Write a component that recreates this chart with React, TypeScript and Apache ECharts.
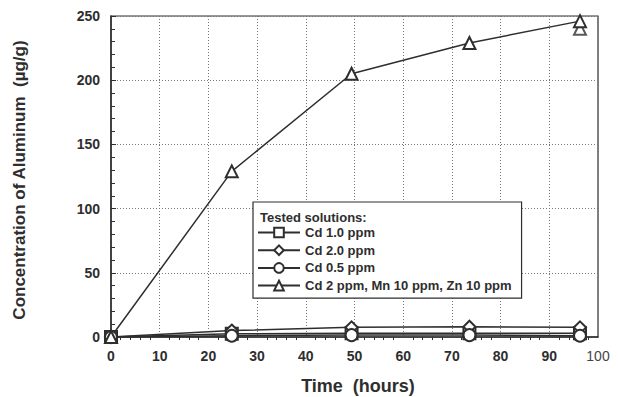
import React, { useEffect, useRef } from "react";
import * as echarts from "echarts";

const times = [0, 24.8, 49.4, 73.6, 96.3];
const cd10 = [0, 2.5, 3, 3, 3];
const cd20 = [0, 5, 7.5, 8, 7.5];
const cd05 = [0, 1, 1.5, 1.5, 1];
const cdMnZn = [0, 129, 205, 229, 246];
const cdMnZnReplicate: [number, number][] = [[96.3, 240]];
const xTicks = [0, 10, 20, 30, 40, 50, 60, 70, 80, 90, 100];
const yTicks = [0, 50, 100, 150, 200, 250];

const names = ["Cd 1.0 ppm", "Cd 2.0 ppm", "Cd 0.5 ppm", "Cd 2 ppm, Mn 10 ppm, Zn 10 ppm"];

const INK = "#2e2e2e";
const FONT = "'Liberation Sans', Arial, sans-serif";

function pairs(ys: number[]): [number, number][] {
  return ys.map((y, i) => [times[i], y]);
}

export default function App() {
  const ref = useRef<HTMLDivElement>(null);
  useEffect(() => {
    if (!ref.current) return;
    const chart = echarts.init(ref.current, undefined, { renderer: "svg" });
    const lineSeries = (name: string, data: [number, number][], symbol: string) => ({
      name,
      type: "line",
      data,
      symbol,
      symbolSize: 12,
      showAllSymbol: true,
      lineStyle: { color: INK, width: 1.5 },
      itemStyle: { color: INK, borderWidth: 1.5 },
    });
    chart.setOption({
      animation: false,
      backgroundColor: "#fff",
      textStyle: { fontFamily: FONT },
      grid: {
        left: 111,
        right: 20,
        top: 16,
        bottom: 60,
        show: true,
        borderColor: INK,
        borderWidth: 1.2,
        backgroundColor: "transparent",
      },
      xAxis: {
        type: "value",
        min: xTicks[0],
        max: xTicks[xTicks.length - 1],
        interval: 10,
        axisLine: { show: true, onZero: false, lineStyle: { color: INK, width: 1.5 } },
        axisTick: { show: false },
        minorTick: { show: true, splitNumber: 5, length: 3, lineStyle: { color: INK } },
        splitLine: { show: true, lineStyle: { color: "#777", type: [1, 2], width: 1 } },
        axisLabel: {
          margin: 12,
          fontSize: 14,
          fontWeight: "bold",
          color: INK,
          fontFamily: FONT,
          formatter: (v: number) => (v === 100 ? "{n|100}" : String(v)),
          rich: { n: { fontSize: 14, fontWeight: "normal", color: "#444", fontFamily: FONT } },
        },
      },
      yAxis: {
        type: "value",
        min: yTicks[0],
        max: yTicks[yTicks.length - 1],
        interval: 50,
        axisLine: { show: true, onZero: false, lineStyle: { color: INK, width: 1.5 } },
        axisTick: { show: true, inside: true, length: 5, lineStyle: { color: INK } },
        minorTick: { show: true, splitNumber: 5, length: 4, lineStyle: { color: INK } },
        splitLine: { show: true, lineStyle: { color: "#777", type: [1, 2], width: 1 } },
        axisLabel: { margin: 11, fontSize: 14, fontWeight: "bold", color: INK, fontFamily: FONT },
      },
      legend: {
        data: names,
        orient: "vertical",
        left: 253,
        top: 202,
        padding: [24, 10, 6, 4],
        itemWidth: 42,
        itemHeight: 12,
        itemGap: 4.7,
        backgroundColor: "#fff",
        borderColor: INK,
        borderWidth: 1.2,
        borderRadius: 0,
        textStyle: { fontSize: 13, fontWeight: "bold", color: INK, fontFamily: FONT, lineHeight: 12 },
      },
      graphic: [
        {
          type: "text",
          z: 100,
          x: 260,
          y: 217,
          style: {
            text: "Tested solutions:",
            font: `bold 13px ${FONT}`,
            fill: INK,
            textVerticalAlign: "middle",
          },
        },
        {
          type: "text",
          x: 358,
          y: 386,
          style: {
            text: "Time  (hours)",
            font: `bold 18px ${FONT}`,
            fill: INK,
            textAlign: "center",
            textVerticalAlign: "middle",
          },
        },
        {
          type: "text",
          x: 19,
          y: 180,
          rotation: Math.PI / 2,
          style: {
            text: "Concentration of Aluminum  (µg/g)",
            font: `bold 17px ${FONT}`,
            fill: INK,
            textAlign: "center",
            textVerticalAlign: "middle",
          },
        },
      ],
      series: [
        lineSeries(names[0], pairs(cd10), "emptyRect"),
        lineSeries(names[1], pairs(cd20), "emptyDiamond"),
        lineSeries(names[2], pairs(cd05), "emptyCircle"),
        lineSeries(names[3], pairs(cdMnZn), "emptyTriangle"),
        {
          name: names[3],
          type: "scatter",
          data: cdMnZnReplicate,
          symbol: "emptyTriangle",
          symbolSize: 12,
          itemStyle: { color: INK, borderWidth: 1.5 },
        },
      ],
    });
    return () => chart.dispose();
  }, []);
  return <div ref={ref} style={{ width: 618, height: 397, position: "absolute", left: 0, top: 0 }} />;
}
